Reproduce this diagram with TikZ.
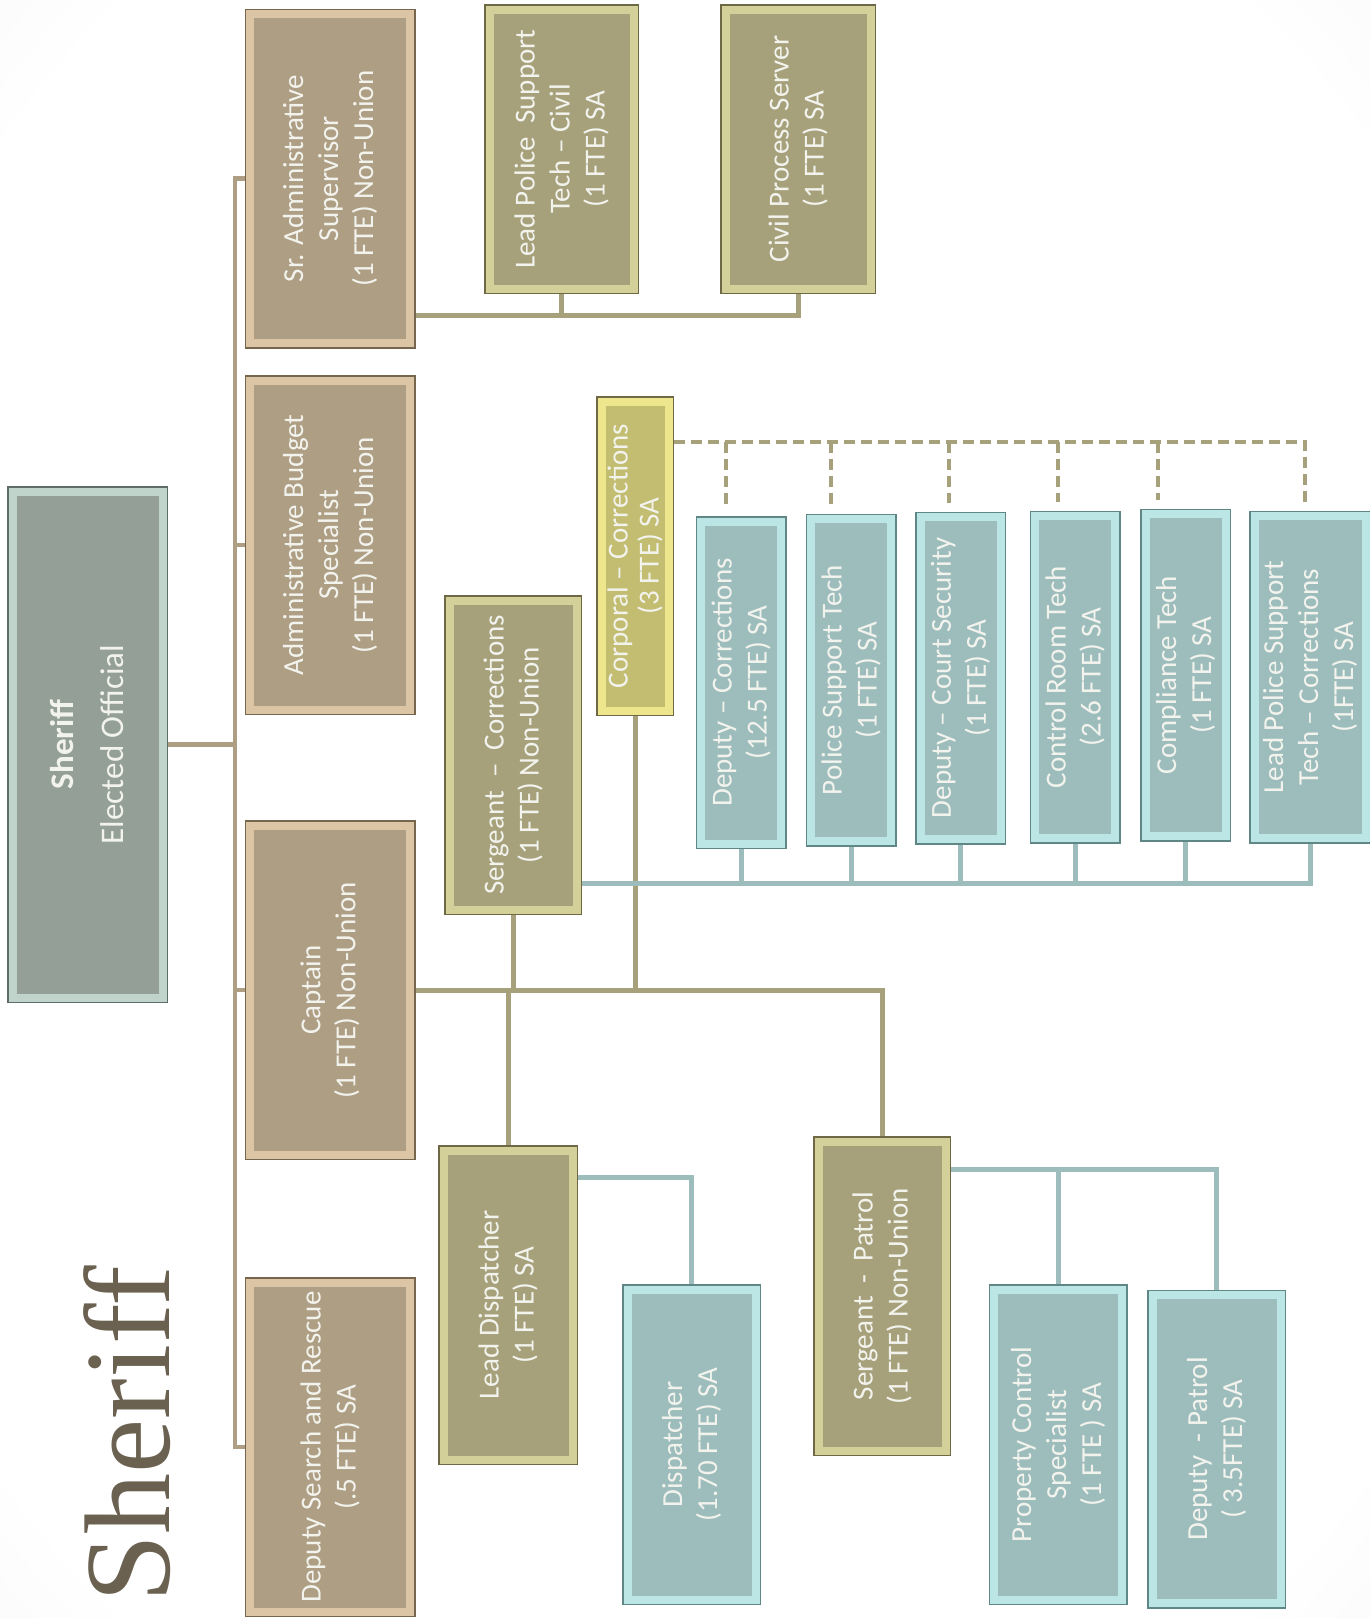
\documentclass[tikz,border=0pt]{standalone}
\usepackage{xcolor}
\usepackage{tikz}
\usepackage{fontspec}
\usetikzlibrary{
  positioning,
  calc,
  backgrounds
}
\newfontfamily\boxfont{Carlito}
\newfontfamily\titlefont{Liberation Serif}
\definecolor{shTop}{HTML}{939F97}
\definecolor{shTopBevel}{HTML}{C0D4CC}
\definecolor{shTopEdge}{HTML}{5E6E66}
\definecolor{shBrown}{HTML}{AE9E84}
\definecolor{shBrownBevel}{HTML}{DCC5A4}
\definecolor{shBrownEdge}{HTML}{76664E}
\definecolor{shOlive}{HTML}{A6A17B}
\definecolor{shOliveBevel}{HTML}{D4D09A}
\definecolor{shOliveEdge}{HTML}{6E6944}
\definecolor{shCorp}{HTML}{C2BD70}
\definecolor{shCorpBevel}{HTML}{EEE68C}
\definecolor{shTeal}{HTML}{9CBDBC}
\definecolor{shTealBevel}{HTML}{BCE6E6}
\definecolor{shTealEdge}{HTML}{5E8786}
\definecolor{shText}{HTML}{F3F3EE}
\definecolor{shTitle}{HTML}{6A6150}
\pgfdeclareradialshading{shglow}{\pgfpoint{0bp}{0bp}}{%
  color(0bp)=(white); color(32bp)=(white); color(62bp)=(black!12); color(80bp)=(black!12)}
\tikzset{
  unit/.style n args={3}{
    rotate=90, fill=#1, draw=#2, line width=8pt,
    preaction={draw=#3, line width=11pt},
    outer sep=5.5pt, inner sep=1pt, align=center, text=shText,
    font={\boxfont\fontsize{29}{35}\selectfont}
  },
  topbox/.style={unit={shTop}{shTopBevel}{shTopEdge}, font={\boxfont\fontsize{33}{40}\selectfont}},
  staffbox/.style={unit={shBrown}{shBrownBevel}{shBrownEdge}, minimum width=329pt, minimum height=160pt},
  leadbox/.style={unit={shOlive}{shOliveBevel}{shOliveEdge}},
  corpbox/.style={unit={shCorp}{shCorpBevel}{shOliveEdge}, inner sep=0pt, font={\boxfont\fontsize{29}{31}\selectfont}},
  techbox/.style={unit={shTeal}{shTealBevel}{shTealEdge}},
  deskbox/.style={techbox, minimum width=322pt, minimum height=80pt},
  brownline/.style={line width=4.5pt, shBrown},
  oliveline/.style={line width=5pt, shOlive},
  tealline/.style={line width=5pt, shTeal},
  dashline/.style={line width=4pt, shOlive, dash pattern=on 11pt off 6pt},
  titletext/.style={rotate=90, text=shTitle, inner sep=0pt, font={\titlefont\fontsize{122}{122}\selectfont}}
}
\begin{document}
\begin{tikzpicture}[x=1pt, y=-1pt]
  \useasboundingbox (0,0) rectangle (1370,1618);
  \shade[shading=shglow] (0,0) rectangle (1370,1618);

  \node[topbox, minimum width=506pt, minimum height=150pt] (sheriff) at (87.5,744.5) {\textbf{Sheriff}\\[10pt]Elected Official};
  \node[titletext, anchor=base] (title) at (169,1434) {Sheriff};

  \node[staffbox] (sradmin) at (330,178.5) {Sr. Administrative\\Supervisor\\(1 FTE) Non-Union};
  \node[staffbox] (budget) at (330,545) {Administrative Budget\\Specialist\\(1 FTE) Non-Union};
  \node[staffbox] (captain) at (330,990) {Captain\\(1 FTE) Non-Union};
  \node[staffbox] (sar) at (330,1447) {Deputy Search and Rescue\\(.5 FTE) SA};

  \node[leadbox, minimum width=279pt, minimum height=144pt] (lpcivil) at (561.5,149) {Lead Police~ Support\\Tech – Civil\\(1 FTE) SA};
  \node[leadbox, minimum width=279pt, minimum height=145pt] (civproc) at (798,149) {Civil Process Server\\(1 FTE) SA};
  \node[leadbox, minimum width=309pt, minimum height=127pt] (sgtcorr) at (513,755) {Sergeant~ –~ Corrections\\(1 FTE) Non-Union};
  \node[corpbox, minimum width=309pt, minimum height=67pt] (corp) at (635,556) {Corporal – Corrections\\(3 FTE) SA};
  \node[leadbox, minimum width=309pt, minimum height=129pt] (leaddisp) at (508,1305) {Lead Dispatcher\\(1 FTE) SA};
  \node[leadbox, minimum width=309pt, minimum height=127pt] (sgtpat) at (882,1296) {Sergeant~ -~ Patrol\\(1 FTE) Non-Union};

  \node[techbox, minimum width=310pt, minimum height=128pt] (disp) at (691.5,1444.5) {Dispatcher\\(1.70 FTE) SA};
  \node[techbox, minimum width=310pt, minimum height=128pt] (propctl) at (1058,1444.5) {Property Control\\Specialist\\(1 FTE ) SA};
  \node[techbox, minimum width=308pt, minimum height=128pt] (deppat) at (1216.5,1449) {Deputy~ - Patrol\\( 3.5FTE) SA};

  \node[deskbox] (dcor) at (741,682.5) {Deputy – Corrections\\(12.5 FTE) SA};
  \node[deskbox] (pst) at (851,680) {Police Support Tech\\(1 FTE) SA};
  \node[deskbox] (dcs) at (960.5,678) {Deputy – Court Security\\(1 FTE) SA};
  \node[deskbox] (crt) at (1075,677) {Control Room Tech\\(2.6 FTE) SA};
  \node[deskbox] (cmp) at (1185.5,675) {Compliance Tech\\(1 FTE) SA};
  \node[deskbox, minimum height=111pt] (lpcorr) at (1310,677) {Lead Police Support\\Tech – Corrections\\(1FTE) SA};

  \coordinate (trunk) at (235,0);
  \draw[brownline] (sheriff.south) -- (sheriff.south -| trunk);
  \draw[brownline] (sradmin.north) -- (sradmin.north -| trunk) -- (sar.north -| trunk) -- (sar.north);
  \foreach \n in {budget,captain}{\draw[brownline] (\n.north -| trunk) -- (\n.north);}

  \coordinate (civbus) at (0,315);
  \draw[oliveline] (sradmin.south |- civbus) -| (civproc.west);
  \draw[oliveline] (lpcivil.west) -- (lpcivil.west |- civbus);

  \draw[oliveline] (captain.south) -| (sgtpat.east);
  \foreach \n in {sgtcorr,corp}{\draw[oliveline] (\n.west) -- (\n.west |- captain.south);}
  \draw[oliveline] (leaddisp.east) -- (leaddisp.east |- captain.south);

  \draw[tealline] (leaddisp.south east) ++(0,32) -| (disp.east);
  \draw[tealline] (sgtpat.south east) ++(0,33) coordinate (patbus) -| (deppat.east);
  \draw[tealline] (propctl.east) -- (propctl.east |- patbus);

  \draw[tealline] (sgtcorr.south west) ++(0,-32) coordinate (corrbus) -| (lpcorr.west);
  \foreach \n in {dcor,pst,dcs,crt,cmp}{\draw[tealline] (\n.west) -- (\n.west |- corrbus);}

  \path (corp.south east) ++(0,45.5) coordinate (dashbus);
  \foreach \n/\dx in {dcor/-15pt,pst/-20pt,dcs/-12pt,crt/-17pt,cmp/-28pt,lpcorr/-5pt}{
    \path ([xshift=\dx, yshift=6pt]\n.east) coordinate (d\n);
  }
  \draw[dashline] (dashbus) -| (dlpcorr);
  \foreach \n in {dcor,pst,dcs,crt,cmp}{\draw[dashline] (d\n |- dashbus) -- ([yshift=3pt]d\n);}
\end{tikzpicture}
\end{document}
